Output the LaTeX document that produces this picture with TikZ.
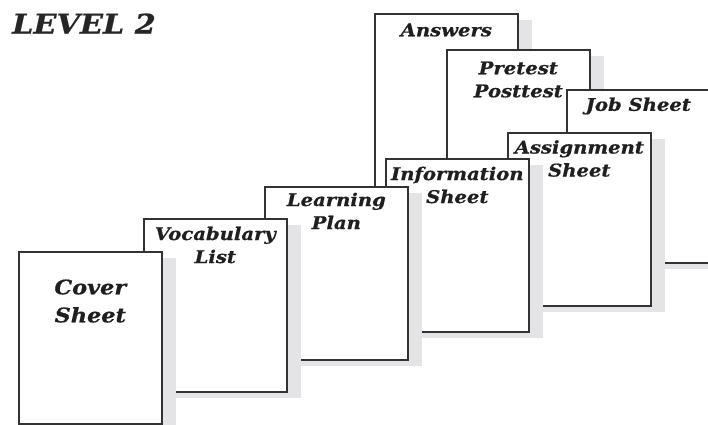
\documentclass[tikz,border=0pt]{standalone}
\usepackage{fontspec}
\setmainfont{DejaVu Serif}
\newfontfamily\sheetfont[FakeStretch=1.12,FakeBold=0.6]{DejaVu Serif}
\usetikzlibrary{calc,shadows}
\definecolor{edgec}{HTML}{333333}
\definecolor{shadc}{HTML}{E4E4E6}
\tikzset{
  sheet/.style={draw=edgec, line width=1.6pt, fill=white, rectangle, anchor=north west,
    minimum width=143pt, minimum height=173pt, inner sep=0pt,
    general shadow={fill=shadc, draw=none, shadow xshift=14pt, shadow yshift=-6pt}},
  sheettext/.style={align=center, inner sep=0pt, text=black!88,
    font=\sheetfont\bfseries\itshape\fontsize{17.5}{23}\selectfont},
  bigtext/.style={align=center, inner sep=0pt, text=black!88,
    font=\sheetfont\bfseries\itshape\fontsize{20}{28}\selectfont},
}
\begin{document}
\begin{tikzpicture}[x=1pt,y=-1pt]
\useasboundingbox (0,0) rectangle (708,424);
\clip (0,0) rectangle (708,424);
\fill[white] (0,0) rectangle (708,424);
\node[anchor=base west, inner sep=0pt, text=black!85, font=\sheetfont\bfseries\itshape\fontsize{27}{30}\selectfont] (title) at (12,33.5) {LEVEL 2};
% back to front
\node[sheet] (answers) at (374,13) {};
\node[sheettext] (answersT) at ($(answers.north)+(0,17)$) {Answers};
\node[sheet] (pretest) at (446,49) {};
\node[sheettext] (pretestT) at ($(pretest.north)+(0,30.5)$) {Pretest\\Posttest};
\node[sheet] (job) at (566,89) {};
\node[sheettext] (jobT) at ($(job.north)+(0,17)$) {Job Sheet};
\node[sheet] (assign) at (507,132) {};
\node[sheettext] (assignT) at ($(assign.north)+(0,26.5)$) {Assignment\\Sheet};
\node[sheet] (info) at (385,158) {};
\node[sheettext] (infoT) at ($(info.north)+(0,27)$) {Information\\Sheet};
\node[sheet] (learn) at (264,186) {};
\node[sheettext] (learnT) at ($(learn.north)+(0,25)$) {Learning\\Plan};
\node[sheet] (vocab) at (143,218) {};
\node[sheettext] (vocabT) at ($(vocab.north)+(0,27)$) {Vocabulary\\List};
\node[sheet, minimum height=172pt] (cover) at (18,251) {};
\node[bigtext] (coverT) at ($(cover.north)+(0,50)$) {Cover\\Sheet};
\end{tikzpicture}
\end{document}
